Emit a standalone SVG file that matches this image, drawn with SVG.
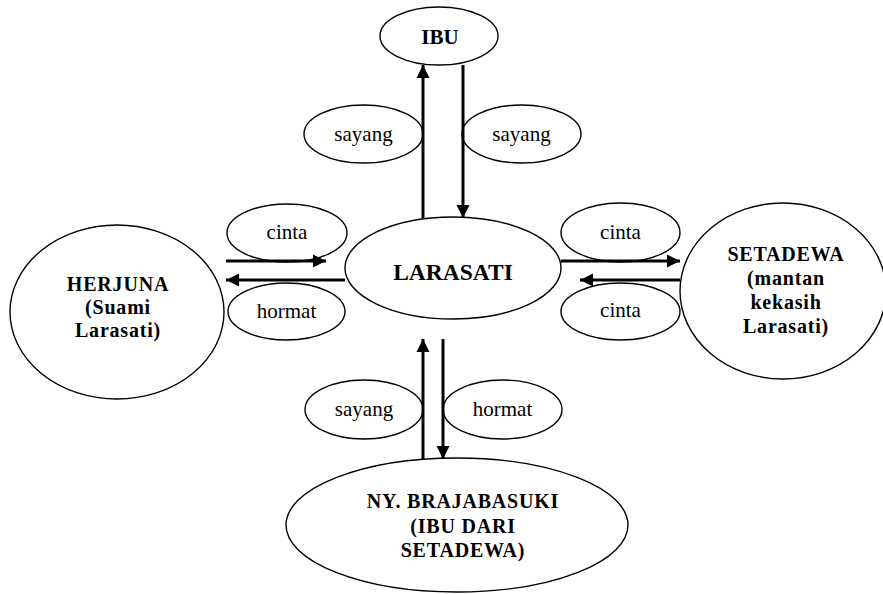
<svg xmlns="http://www.w3.org/2000/svg" width="883" height="594" viewBox="0 0 883 594">
<style>
.n{fill:#fff;stroke:#000;stroke-width:1.4}
.c{stroke:#000;stroke-width:3;fill:none;marker-end:url(#ah)}
</style>
<defs>
<marker id="ah" markerUnits="userSpaceOnUse" markerWidth="14" markerHeight="14" viewBox="0 0 14 14" refX="13" refY="7" orient="auto">
<path d="M0,0.5 L13,7 L0,13.5 z" fill="#000"/>
</marker>
</defs>
<rect width="883" height="594" fill="#fff"/>
<g id="ibu"><ellipse class="n" cx="439" cy="36" rx="59" ry="29"/><text x="440" y="44" font-family="Liberation Serif" font-weight="bold" font-size="21" text-anchor="middle">IBU</text></g>
<g id="larasati"><ellipse class="n" cx="453" cy="268" rx="108" ry="51"/><text x="453" y="280" font-family="Liberation Serif" font-weight="bold" font-size="23.5" text-anchor="middle">LARASATI</text></g>
<g id="herjuna" font-family="Liberation Serif" font-weight="bold" font-size="20" letter-spacing="0.8" text-anchor="middle"><ellipse class="n" cx="117" cy="312" rx="107" ry="87"/><text x="118" y="291">HERJUNA</text><text x="118" y="314">(Suami</text><text x="118" y="337">Larasati)</text></g>
<g id="setadewa" font-family="Liberation Serif" font-weight="bold" font-size="20" letter-spacing="0.8" text-anchor="middle"><ellipse class="n" cx="783" cy="291" rx="103" ry="88"/><text x="786" y="261">SETADEWA</text><text x="786" y="285">(mantan</text><text x="786" y="309">kekasih</text><text x="786" y="333">Larasati)</text></g>
<g id="brajabasuki" font-family="Liberation Serif" font-weight="bold" font-size="20" letter-spacing="0.8" text-anchor="middle"><ellipse class="n" cx="457" cy="525" rx="171" ry="67"/><text x="463" y="508">NY. BRAJABASUKI</text><text x="463" y="533">(IBU DARI</text><text x="463" y="557">SETADEWA)</text></g>
<g font-family="Liberation Serif" font-size="21" text-anchor="middle">
<g id="lbl-sayang-1"><ellipse class="n" cx="363.5" cy="134" rx="59.5" ry="29"/><text x="363.5" y="141">sayang</text></g>
<g id="lbl-sayang-2"><ellipse class="n" cx="521.5" cy="134" rx="59.5" ry="29"/><text x="521.5" y="141">sayang</text></g>
<g id="lbl-cinta-1"><ellipse class="n" cx="287" cy="233" rx="60" ry="29"/><text x="287" y="239">cinta</text></g>
<g id="lbl-hormat-1"><ellipse class="n" cx="286.5" cy="311.5" rx="58.5" ry="28.5"/><text x="286.5" y="318">hormat</text></g>
<g id="lbl-cinta-2"><ellipse class="n" cx="620.5" cy="232.5" rx="59.5" ry="29.5"/><text x="620.5" y="239">cinta</text></g>
<g id="lbl-cinta-3"><ellipse class="n" cx="620.5" cy="311.5" rx="59.5" ry="28.5"/><text x="620.5" y="317">cinta</text></g>
<g id="lbl-sayang-3"><ellipse class="n" cx="364" cy="409.5" rx="59" ry="29.5"/><text x="364" y="416">sayang</text></g>
<g id="lbl-hormat-2"><ellipse class="n" cx="502.5" cy="409.5" rx="59.5" ry="29.5"/><text x="502.5" y="416">hormat</text></g>
</g>
<g id="connectors">
<line class="c" x1="423" y1="218" x2="423" y2="65"/>
<line class="c" x1="463" y1="65" x2="463" y2="218"/>
<line class="c" x1="226" y1="261" x2="326" y2="261"/>
<line class="c" x1="345" y1="280" x2="226" y2="280"/>
<line class="c" x1="561" y1="261" x2="680" y2="261"/>
<line class="c" x1="680" y1="280" x2="580" y2="280"/>
<line class="c" x1="423" y1="459" x2="423" y2="339"/>
<line class="c" x1="443" y1="339" x2="443" y2="459"/>
</g>
</svg>
